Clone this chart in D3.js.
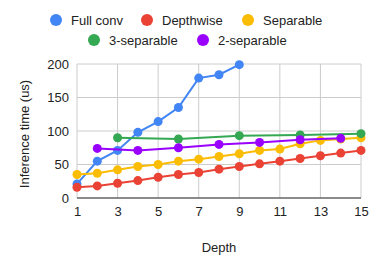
<!DOCTYPE html>
<html>
<head>
<meta charset="utf-8">
<script src="https://cdn.jsdelivr.net/npm/d3@7"></script>
<style>
  body { margin: 0; background: #fff; }
  svg text { font-family: "Liberation Sans", Arial, sans-serif; }
</style>
</head>
<body>
<div id="chart"></div>
<script>
// Chart data
var seriesNames = ["Full conv", "Depthwise", "Separable", "3-separable", "2-separable"];
var seriesColors = ["#4285f4", "#ea4335", "#fbbc04", "#34a853", "#9900ff"];

var fullConvX = [1, 2, 3, 4, 5, 6, 7, 8, 9];
var fullConvY = [21, 55, 71, 98, 114, 135, 179, 184, 199];

var depthwiseX = [1, 2, 3, 4, 5, 6, 7, 8, 9, 10, 11, 12, 13, 14, 15];
var depthwiseY = [16, 18, 22, 26, 31, 35, 38, 43, 47, 51, 55, 59, 63, 67, 71];

var separableX = [1, 2, 3, 4, 5, 6, 7, 8, 9, 10, 11, 12, 13, 14, 15];
var separableY = [35, 37, 42, 47, 50, 55, 58, 62, 66, 71, 73, 81, 86, 88, 90];

var sep3X = [3, 6, 9, 12, 15];
var sep3Y = [90, 88, 93, 94, 96];

var sep2X = [2, 4, 6, 8, 10, 12, 14];
var sep2Y = [74, 71, 75, 80, 83, 87, 89];

var xTicks = [1, 3, 5, 7, 9, 11, 13, 15];
var yTicks = [0, 50, 100, 150, 200];

var allSeries = [
  {name: seriesNames[0], color: seriesColors[0], xs: fullConvX, ys: fullConvY},
  {name: seriesNames[1], color: seriesColors[1], xs: depthwiseX, ys: depthwiseY},
  {name: seriesNames[2], color: seriesColors[2], xs: separableX, ys: separableY},
  {name: seriesNames[3], color: seriesColors[3], xs: sep3X, ys: sep3Y},
  {name: seriesNames[4], color: seriesColors[4], xs: sep2X, ys: sep2Y}
];

var svgWidth = 374;
var svgHeight = 267;
var fontSize = "13px";

var chartMargin = { top: 64, right: 13, bottom: 69, left: 77 };
var width = svgWidth - chartMargin.left - chartMargin.right;
var height = svgHeight - chartMargin.top - chartMargin.bottom;

var svg = d3.select("#chart")
  .append("svg")
  .attr("width", svgWidth)
  .attr("height", svgHeight);

var chartGroup = svg.append("g")
  .attr("transform", `translate(${chartMargin.left}, ${chartMargin.top})`);

var x = d3.scaleLinear().domain([1, 15]).range([0, width]);
var y = d3.scaleLinear().domain([0, 200]).range([height, 0]);

// grid lines
chartGroup.append("g")
  .selectAll("line")
  .data(yTicks)
  .enter()
  .append("line")
  .attr("x1", 0).attr("x2", width)
  .attr("y1", d => y(d)).attr("y2", d => y(d))
  .attr("stroke", "#cccccc");

chartGroup.append("g")
  .selectAll("line")
  .data(xTicks)
  .enter()
  .append("line")
  .attr("y1", 0).attr("y2", height)
  .attr("x1", d => x(d)).attr("x2", d => x(d))
  .attr("stroke", "#cccccc");

// bottom baseline
chartGroup.append("line")
  .attr("x1", 0).attr("x2", width)
  .attr("y1", y(0)).attr("y2", y(0))
  .attr("stroke", "#333333");

// axes (labels only)
var bottomAxis = d3.axisBottom(x).tickValues(xTicks).tickSize(0).tickPadding(9);
var leftAxis = d3.axisLeft(y).tickValues(yTicks).tickSize(0).tickPadding(8);

var xAxisG = chartGroup.append("g")
  .attr("transform", `translate(0, ${height})`)
  .call(bottomAxis);
var yAxisG = chartGroup.append("g").call(leftAxis);

[xAxisG, yAxisG].forEach(function(g) {
  g.attr("font-family", null).attr("font-size", null);
  g.select(".domain").remove();
  g.selectAll("text")
    .attr("font-size", fontSize)
    .attr("fill", "#222222");
});

// lines + points
var line = d3.line()
  .x(d => x(d[0]))
  .y(d => y(d[1]));

allSeries.forEach(function(s) {
  var pts = s.xs.map((v, i) => [v, s.ys[i]]);
  chartGroup.append("path")
    .datum(pts)
    .attr("d", line)
    .attr("fill", "none")
    .attr("stroke", s.color)
    .attr("stroke-width", 2);
  chartGroup.append("g")
    .selectAll("circle")
    .data(pts)
    .enter()
    .append("circle")
    .attr("cx", d => x(d[0]))
    .attr("cy", d => y(d[1]))
    .attr("r", 4.5)
    .attr("fill", s.color);
});

// axis titles
svg.append("text")
  .attr("transform", `translate(29, ${chartMargin.top + height / 2 + 3}) rotate(-90)`)
  .attr("text-anchor", "middle")
  .attr("font-size", fontSize)
  .attr("fill", "#222222")
  .text("Inference time (us)");

svg.append("text")
  .attr("x", chartMargin.left + width / 2)
  .attr("y", 252)
  .attr("text-anchor", "middle")
  .attr("font-size", fontSize)
  .attr("fill", "#222222")
  .text("Depth");

// legend
var legendPos = [
  {cx: 56, cy: 20}, {cx: 147, cy: 20}, {cx: 248, cy: 20},
  {cx: 94, cy: 40}, {cx: 203, cy: 40}
];

var legend = svg.append("g")
  .selectAll("g")
  .data(allSeries)
  .enter()
  .append("g")
  .attr("transform", (d, i) => `translate(${legendPos[i].cx}, ${legendPos[i].cy})`);

legend.append("circle")
  .attr("r", 6)
  .attr("fill", d => d.color);

legend.append("text")
  .attr("x", 15)
  .attr("y", 0)
  .attr("dy", "0.35em")
  .attr("font-size", fontSize)
  .attr("fill", "#222222")
  .text(d => d.name);
</script>
</body>
</html>
